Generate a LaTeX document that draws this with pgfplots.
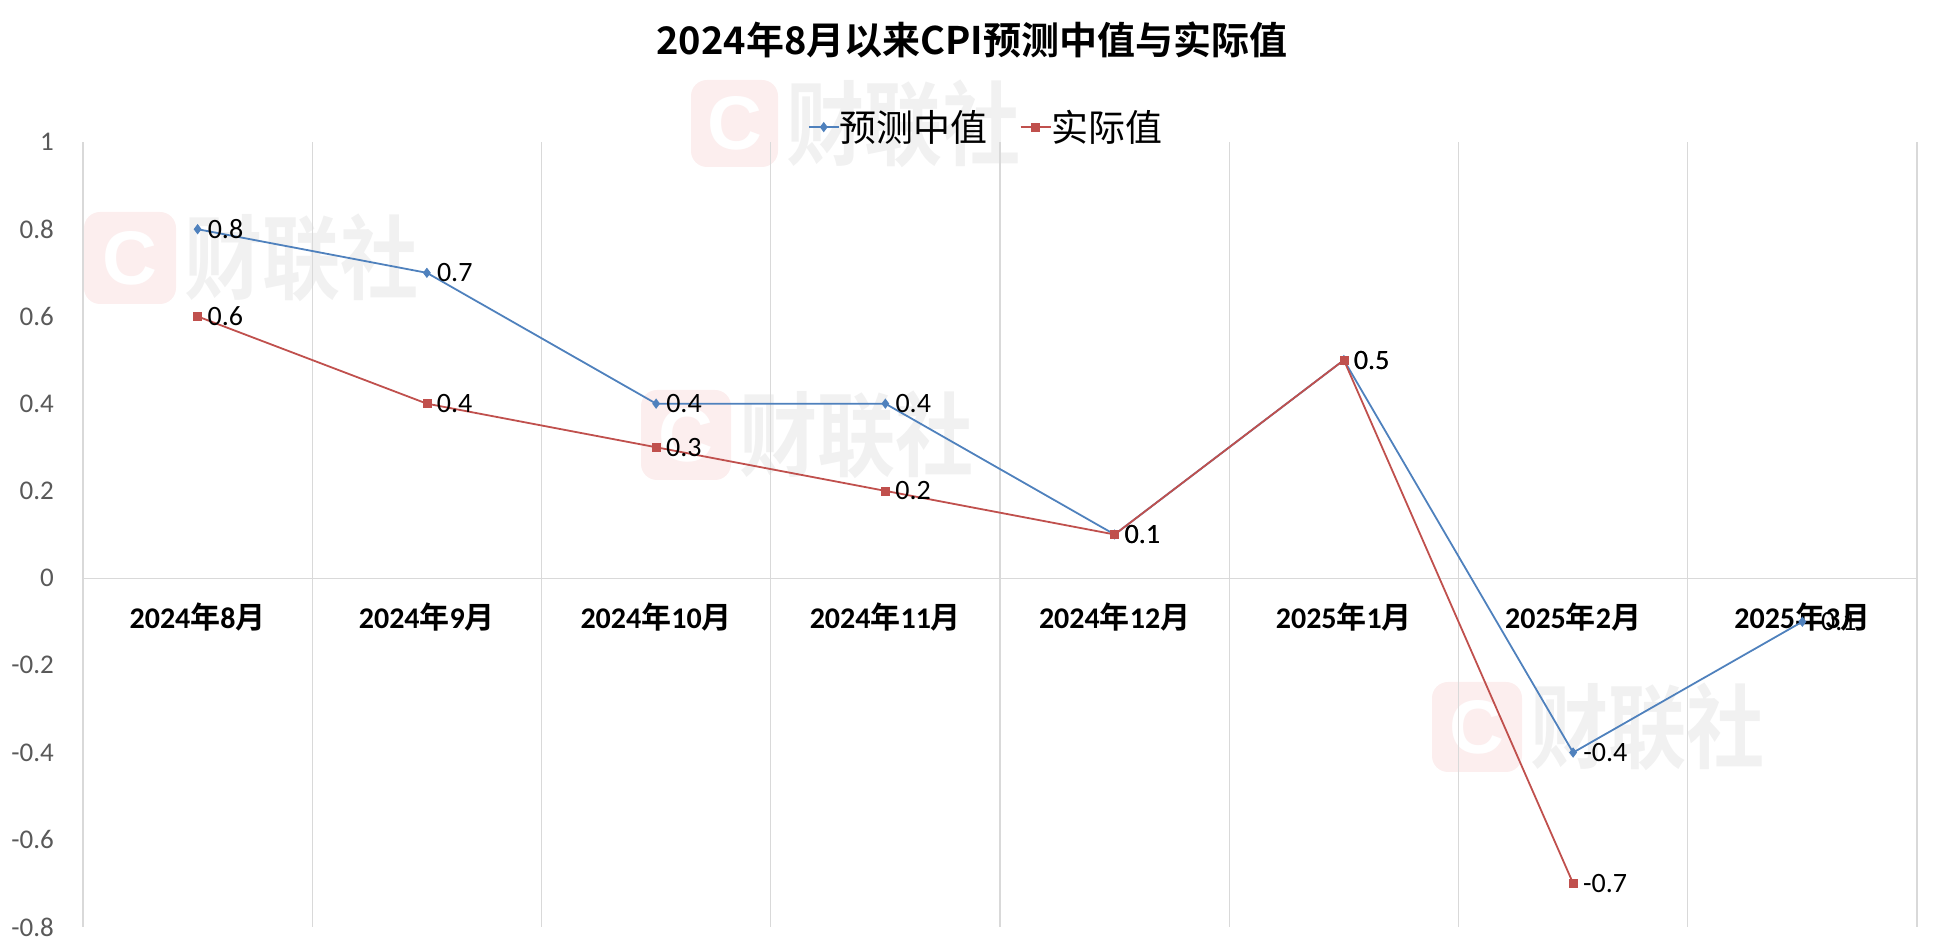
\documentclass[border=0pt]{standalone}
\usepackage{pgfplots}
\pgfplotsset{compat=1.18}
\usepackage{fontspec}
\setmainfont{Carlito}
\newfontfamily\cjk[BoldFont={Noto Sans CJK SC Bold}]{Noto Sans CJK SC}
\newfontfamily\lsans{Liberation Sans}
\definecolor{sblue}{HTML}{4F81BD}
\definecolor{sred}{HTML}{C0504D}
\definecolor{gridc}{HTML}{D9D9D9}
\definecolor{tickc}{HTML}{595959}
\definecolor{wmpink}{HTML}{FCEEEE}
\definecolor{wmgray}{HTML}{F1F1F1}
\newcommand\ym[2]{\bfseries #1{\cjk\bfseries 年}#2{\cjk\bfseries 月}}
\newcommand\PX[2]{({((#1)-83)/2},{(927-(#2))/2})}
\newcommand\wm[3]{%
  \fill[wmpink, rounded corners=8pt] \PX{#1}{#2} rectangle \PX{#1+#3}{#2+#3};
  \node[text=white, font=\lsans\bfseries\fontsize{38}{38}\selectfont, inner sep=0pt] at \PX{#1+#3/2}{#2+#3/2} {C};
  \node[anchor=west, text=wmgray, font=\cjk\bfseries\fontsize{46}{46}\selectfont, inner sep=0pt, xscale=0.85] at \PX{#1+#3+8}{#2+#3/2} {财联社};%
}
\begin{document}
\begin{tikzpicture}[x=1pt,y=1pt]
\useasboundingbox (-41.5,-9.5) rectangle (925.5,463.5);
\wm{691}{80}{87}
\wm{84}{212}{92}
\wm{641}{390}{90}
\wm{1432}{682}{90}
\node[font=\cjk\bfseries\fontsize{19}{19}\selectfont] at \PX{972}{40} {2024年8月以来CPI预测中值与实际值};
\begin{axis}[at={(0,0)}, anchor=south west, scale only axis,
  width=917pt, height=392.5pt,
  xmin=-0.5, xmax=7.5, ymin=-0.8, ymax=1,
  axis x line=middle, axis y line=left,
  axis line style={draw=gridc, line width=0.6pt, -},
  y axis line style={draw=none},
  hide obscured x ticks=false, hide obscured y ticks=false,
  xtick={0,1,2,3,4,5,6,7},
  xticklabels={\ym{2024}{8},\ym{2024}{9},\ym{2024}{10},\ym{2024}{11},\ym{2024}{12},\ym{2025}{1},\ym{2025}{2},\ym{2025}{3}},
  xticklabel style={font=\fontsize{15}{15}\selectfont, text=black, anchor=center, yshift=-19.5pt},
  ytick={-0.8,-0.6,-0.4,-0.2,0,0.2,0.4,0.6,0.8,1},
  yticklabels={-0.8,-0.6,-0.4,-0.2,0,0.2,0.4,0.6,0.8,1},
  yticklabel style={font=\fontsize{13.5}{13.5}\selectfont, text=tickc, anchor=east, xshift=-11pt},
  major tick length=0pt, minor tick length=0pt,
  minor xtick={-0.5,0.5,1.5,2.5,3.5,4.5,5.5,6.5,7.5},
  xminorgrids, minor x grid style={gridc, line width=0.6pt},
  clip=false,
  legend columns=2,
  legend style={at={(0.493,1.019)}, anchor=center, draw=none, fill=none,
    font=\cjk\fontsize{18.5}{18.5}\selectfont, inner sep=0pt,
    /tikz/every even column/.append style={column sep=14pt},
    /tikz/every odd column/.append style={column sep=-2pt}},
  legend image code/.code={\draw[mark repeat=2, mark phase=2] plot coordinates {(0pt,0pt) (7.5pt,0pt) (15pt,0pt)};},
  nodes near coords, point meta=explicit symbolic,
  every node near coord/.append style={anchor=west, xshift=1.5pt, text=black, font=\fontsize{14}{14}\selectfont},
]
\addplot[color=sblue, line width=0.9pt, mark=diamond*, mark size=2.2pt, mark options={fill=sblue, line width=0.5pt}]
  coordinates {(0,0.8)[0.8] (1,0.7)[0.7] (2,0.4)[0.4] (3,0.4)[0.4] (4,0.1)[0.1] (5,0.5)[0.5] (6,-0.4)[-0.4] (7,-0.1)[-0.1]};
\addlegendentry{预测中值}
\addplot[color=sred, line width=0.9pt, mark=square*, mark size=2pt, mark options={fill=sred, line width=0.3pt}]
  coordinates {(0,0.6)[0.6] (1,0.4)[0.4] (2,0.3)[0.3] (3,0.2)[0.2] (4,0.1)[0.1] (5,0.5)[0.5] (6,-0.7)[-0.7]};
\addlegendentry{实际值}
\end{axis}
\end{tikzpicture}
\end{document}
